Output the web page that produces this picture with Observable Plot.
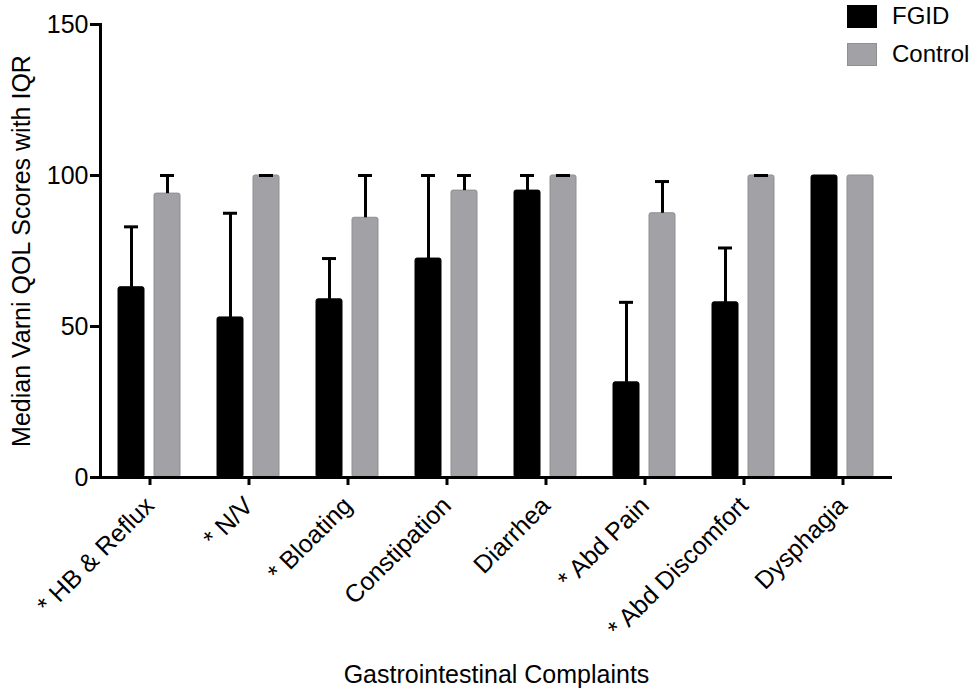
<!DOCTYPE html>
<html>
<head>
<meta charset="utf-8">
<script src="https://cdn.jsdelivr.net/npm/d3@7"></script>
<script src="https://cdn.jsdelivr.net/npm/@observablehq/plot@0.6"></script>
<style>
  html, body { margin: 0; padding: 0; background: #fff; }
  body { width: 976px; height: 696px; position: relative; overflow: hidden; font-family: "Liberation Sans", Arial, sans-serif; }
  #legend { position: absolute; left: 847px; top: -3px; font-size: 24px; color: #000; }
  #legend .row { display: flex; align-items: center; height: 38px; }
  #legend .sw { width: 30px; height: 23px; margin-right: 15px; box-sizing: border-box; }
</style>
</head>
<body>
<div id="chart"></div>
<div id="legend"></div>
<script>
const categories = ["* HB & Reflux", "* N/V", "* Bloating", "Constipation", "Diarrhea", "* Abd Pain", "* Abd Discomfort", "Dysphagia"];
const series = ["FGID", "Control"];
const fgidMedian = [63, 53, 59, 72.5, 95, 31.5, 58, 100];
const fgidUpper = [83, 87.5, 72.5, 100, 100, 58, 76, null];
const controlMedian = [94, 100, 86, 95, 100, 87.5, 100, 100];
const controlUpper = [100, 100, 100, 100, 100, 98, 100, null];
const yTicks = [0, 50, 100, 150];
const colors = ["#000000", "#a2a2a6"];

const rows = [];
categories.forEach((c, i) => {
  rows.push({cat: c, series: "FGID", value: fgidMedian[i], upper: fgidUpper[i]});
  rows.push({cat: c, series: "Control", value: controlMedian[i], upper: controlUpper[i]});
});
const errRows = rows.filter(d => d.upper != null);

const chart = Plot.plot({
  width: 976,
  height: 696,
  marginLeft: 100,
  marginRight: 84,
  marginTop: 24,
  marginBottom: 219,
  style: {fontFamily: '"Liberation Sans", Arial, sans-serif', fontSize: "24px", color: "#000", background: "#fff"},
  fx: {domain: categories, padding: 0},
  x: {domain: series, paddingInner: 0.264, paddingOuter: 0.507, axis: null},
  y: {domain: [0, 150]},
  color: {domain: series, range: colors},
  marks: [
    Plot.barY(rows, {fx: "cat", x: "series", y: "value", fill: "series", stroke: d => d.series === "Control" ? "#8f8f92" : "#000", strokeWidth: 1, rx: 2}),
    Plot.ruleX(errRows, {fx: "cat", x: "series", y1: "value", y2: "upper", stroke: "#000", strokeWidth: 3}),
    Plot.tickY(errRows, {fx: "cat", x: "series", y: "upper", stroke: "#000", strokeWidth: 3, insetLeft: 6, insetRight: 6}),
    Plot.ruleY([0], {stroke: "#000", strokeWidth: 3}),
    Plot.frame({anchor: "left", facet: "super", stroke: "#000", strokeWidth: 3}),
    Plot.axisY({ticks: yTicks, tickSize: 10, tickPadding: 2, strokeWidth: 3, fontSize: 25, label: "Median Varni QOL Scores with IQR", labelAnchor: "center", labelArrow: "none", labelOffset: 88}),
    Plot.axisFx({anchor: "bottom", tickSize: 8, tickPadding: 16, strokeWidth: 3, fontSize: 25, tickRotate: -45, label: "Gastrointestinal Complaints", labelAnchor: "center", labelArrow: "none", labelOffset: 205})
  ]
});
document.getElementById("chart").appendChild(chart);

const legend = document.getElementById("legend");
series.forEach((s, i) => {
  const row = document.createElement("div");
  row.className = "row";
  const sw = document.createElement("div");
  sw.className = "sw";
  sw.style.background = colors[i];
  if (i === 1) sw.style.border = "1px solid #8f8f92";
  const t = document.createElement("span");
  t.textContent = s;
  row.appendChild(sw);
  row.appendChild(t);
  legend.appendChild(row);
});
</script>
</body>
</html>
